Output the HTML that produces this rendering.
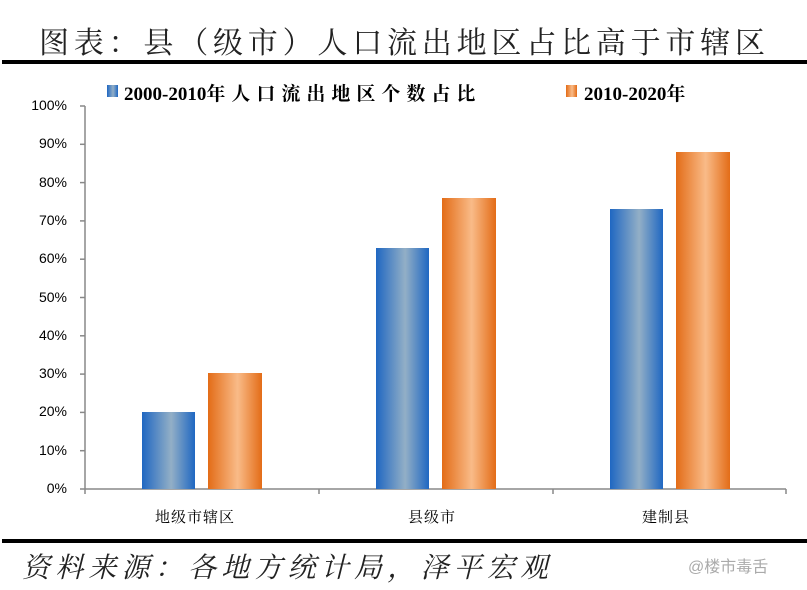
<!DOCTYPE html>
<html><head><meta charset="utf-8"><style>
body{margin:0;width:807px;height:590px;background:#fff;overflow:hidden;position:relative;font-family:"Liberation Serif","Noto Serif CJK SC",serif}
.abs{position:absolute;white-space:nowrap}
.bar{position:absolute}
.b{background:linear-gradient(90deg,#1f67c2,#93afc6 55%,#1f67c2)}
.o{background:linear-gradient(90deg,#e36c17,#f9bb88 55%,#e36c17)}
.yl{position:absolute;right:740px;font-family:"Liberation Sans",sans-serif;font-size:14px;color:#000}
.cj{letter-spacing:6px}
</style></head><body>
<div class="abs" style="left:39px;top:18px;font-size:30px;letter-spacing:4.8px;color:#222">图表：县（级市）人口流出地区占比高于市辖区</div>
<div class="abs" style="left:2px;top:60px;width:805px;height:4px;background:#000"></div>
<div class="abs" style="left:2px;top:539px;width:805px;height:4px;background:#000"></div>
<div class="abs" style="left:22px;top:546px;font-size:28px;font-style:italic;letter-spacing:5.2px;color:#222">资料来源：各地方统计局，泽平宏观</div>
<div class="abs" style="left:688px;top:553px;font-size:16px;color:#aaa;font-family:'Liberation Sans','Noto Sans CJK SC',sans-serif">@楼市毒舌</div>
<div class="bar b" style="left:107px;top:85px;width:11px;height:12px"></div>
<div class="abs" style="left:124px;top:79px;font-size:19px;font-weight:bold">2000-2010<span class="cj">年人口流出地区个数占比</span></div>
<div class="bar o" style="left:566px;top:85px;width:11px;height:12px"></div>
<div class="abs" style="left:584px;top:79px;font-size:19px;font-weight:bold">2010-2020<span class="cj">年</span></div>
<svg class="abs" style="left:0;top:0" width="807" height="590">
<g stroke="#888" stroke-width="1.5" fill="none">
<line x1="85" y1="106" x2="85" y2="489"/>
<line x1="85" y1="489" x2="786" y2="489"/>
<line x1="80" y1="106" x2="85" y2="106"/><line x1="80" y1="144.3" x2="85" y2="144.3"/><line x1="80" y1="182.6" x2="85" y2="182.6"/><line x1="80" y1="220.9" x2="85" y2="220.9"/><line x1="80" y1="259.2" x2="85" y2="259.2"/><line x1="80" y1="297.5" x2="85" y2="297.5"/><line x1="80" y1="335.8" x2="85" y2="335.8"/><line x1="80" y1="374.1" x2="85" y2="374.1"/><line x1="80" y1="412.4" x2="85" y2="412.4"/><line x1="80" y1="450.7" x2="85" y2="450.7"/><line x1="80" y1="489" x2="85" y2="489"/>
<line x1="319" y1="489" x2="319" y2="494"/><line x1="553" y1="489" x2="553" y2="494"/><line x1="786" y1="489" x2="786" y2="494"/><line x1="85" y1="489" x2="85" y2="494"/>
</g></svg>
<div class="yl" style="top:97px">100%</div>
<div class="yl" style="top:135px">90%</div>
<div class="yl" style="top:174px">80%</div>
<div class="yl" style="top:212px">70%</div>
<div class="yl" style="top:250px">60%</div>
<div class="yl" style="top:289px">50%</div>
<div class="yl" style="top:327px">40%</div>
<div class="yl" style="top:365px">30%</div>
<div class="yl" style="top:403px">20%</div>
<div class="yl" style="top:442px">10%</div>
<div class="yl" style="top:480px">0%</div>
<div class="bar b" style="left:142px;top:412px;width:53px;height:77px"></div>
<div class="bar o" style="left:208px;top:373px;width:54px;height:116px"></div>
<div class="bar b" style="left:376px;top:248px;width:53px;height:241px"></div>
<div class="bar o" style="left:442px;top:198px;width:54px;height:291px"></div>
<div class="bar b" style="left:610px;top:209px;width:53px;height:280px"></div>
<div class="bar o" style="left:676px;top:152px;width:54px;height:337px"></div>
<div class="abs" style="left:155px;top:506px;font-size:15px;letter-spacing:1px">地级市辖区</div>
<div class="abs" style="left:408px;top:506px;font-size:15px;letter-spacing:1px">县级市</div>
<div class="abs" style="left:642px;top:506px;font-size:15px;letter-spacing:1px">建制县</div>
</body></html>
